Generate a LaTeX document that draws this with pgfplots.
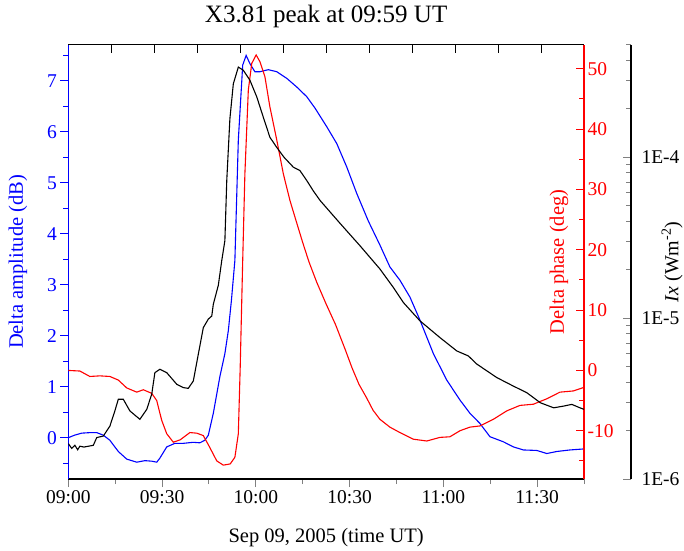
\documentclass[border=0pt]{standalone}
\usepackage{fontspec}
\setmainfont{Liberation Serif}
\usepackage{pgfplots}
\pgfplotsset{compat=1.18}

% time axis: minutes after 09:00
\newcommand{\labfont}{\fontsize{20.5}{24}\selectfont}
\pgfplotsset{
  common/.style={
    width=515.7pt, height=434.3pt, scale only axis,
    at={(0pt,0pt)}, anchor=south west,
    xmin=0, xmax=165,
    /pgf/number format/assume math mode=true,
    tick label style={font=\fontsize{19.5}{22}\selectfont},
    major tick length=8pt, minor tick length=5pt,
    every tick/.append style={line width=1pt},
    axis line style={line width=1.1pt},
  },
}

\begin{document}
\begin{tikzpicture}
\useasboundingbox (-68.3pt,-71pt) rectangle (615.7pt,479pt);

% amplitude (left, blue) + time axis
\begin{axis}[common,
  axis x line*=bottom, axis y line*=left,
  tick align=outside,
  ymin=-0.81, ymax=7.71,
  ytick={0,1,...,7}, minor ytick={-0.5,0.5,...,7.5},
  xtick={0,30,...,150},
  xticklabels={09:00,09:30,10:00,10:30,11:00,11:30},
  minor xtick={15,45,...,165},
  y axis line style={blue}, ytick style={blue},
  yticklabel style={blue},
  xlabel={Sep 09, 2005 (time UT)},
  every axis x label/.style={at={(axis description cs:0.5,-0.134)}, anchor=center, font=\labfont},
  ylabel={Delta amplitude (dB)},
  every axis y label/.style={at={(axis description cs:-0.0975,0.5)}, rotate=90, anchor=center, blue, font=\labfont},
  title={X3.81 peak at 09:59 UT},
  every axis title/.style={at={(axis description cs:0.5,1.066)}, anchor=center, font=\fontsize{25}{29}\selectfont},
]
\addplot[blue, line width=1.1pt] coordinates {
(0,0.0)(2,0.05)(4.3,0.09)(7,0.1)(9.1,0.1)(11.2,0.05)(13.3,-0.05)(16,-0.27)(18.7,-0.42)
(21.9,-0.48)(24.5,-0.45)(26.7,-0.46)(28.3,-0.48)(29.3,-0.4)(31.5,-0.18)(34.1,-0.11)
(36.8,-0.11)(40,-0.09)(42.1,-0.1)(43.7,-0.05)(44.8,0.05)(46.4,0.48)(48.5,1.2)(50.1,1.65)
(51.2,2.1)(52.2,2.7)(53.3,3.48)(54.4,5.84)(55.8,7.31)(56.9,7.5)(58.1,7.34)(59.7,7.18)
(61.3,7.18)(64,7.22)(66.7,7.18)(69.9,7.05)(73.1,6.88)(76.3,6.69)(79,6.46)(82.7,6.1)
(85.9,5.77)(89.1,5.31)(92.3,4.79)(96,4.25)(99.7,3.78)(102.9,3.35)(106.1,3.09)(109.3,2.76)
(112.5,2.31)(116.8,1.65)(121.1,1.13)(125.3,0.74)(128.5,0.48)(131.7,0.28)(134.9,0.02)
(139.2,-0.08)(142.4,-0.18)(145.6,-0.24)(149.9,-0.25)(153.1,-0.31)(156.3,-0.27)
(160.5,-0.24)(165,-0.22)
};
\end{axis}

% phase (right, red) + top line
\begin{axis}[common,
  axis y line*=right, axis x line*=top,
  tick align=inside,
  ymin=-18, ymax=54,
  ytick={-10,0,...,50}, minor ytick={-15,-5,...,45},
  xtick=\empty,
  y axis line style={red}, ytick style={red},
  yticklabel style={red},
  ylabel={Delta phase (deg)},
  every axis y label/.style={at={(axis description cs:0.9515,0.5)}, rotate=90, anchor=center, red, font=\labfont},
]
\addplot[red, line width=1.1pt] coordinates {
(0,0.0)(3.7,-0.1)(6.9,-1.0)(10.1,-0.9)(13.3,-1.0)(16,-1.6)(18.7,-2.9)(21.9,-3.6)(24,-3.2)
(26.7,-3.8)(28.3,-5.0)(29.9,-8.3)(31.5,-10.5)(33.6,-11.9)(35.8,-11.5)(38.9,-10.3)
(41.1,-10.4)(43.2,-10.8)(45.3,-12.8)(47.5,-15.0)(49.6,-15.7)(51.8,-15.5)(53.3,-14.4)
(54.4,-10.5)(55,0.5)(55.5,11.6)(55.8,18.2)(56.5,32.6)(57.6,46.5)(58.7,50.9)(60.1,52.3)
(61.3,51.2)(62.9,48.7)(64.5,43.7)(66.7,38.2)(68.8,32.6)(70.9,28.2)(73,24.6)(75,21.2)
(77,18.0)(79.5,14.6)(82.5,11.0)(85.5,7.6)(88.5,3.6)(90.8,0.4)(93,-2.3)(95.5,-4.6)(97.5,-6.6)
(99.7,-8.1)(102.9,-9.4)(106.1,-10.3)(110.4,-11.4)(114.7,-11.7)(118.9,-11.1)(122.1,-11.0)
(125.3,-10.0)(128.5,-9.4)(131.7,-9.2)(136,-8.1)(140.3,-6.7)(144.5,-5.8)(148.8,-5.6)
(153.1,-4.7)(157.3,-3.6)(161.6,-3.4)(165,-2.8)
};
\end{axis}

% top ticks: twelve equal divisions, 8pt strip hanging below the top edge
\begin{axis}[common,
  height=8pt, at={(0pt,434.3pt)}, anchor=north west,
  xmin=0, xmax=12, ymin=0, ymax=1,
  hide axis, clip=false,
]
\addplot[ycomb, black, line width=1pt, no marks] coordinates {
(1,1)(2,1)(3,1)(4,1)(5,1)(6,1)(7,1)(8,1)(9,1)(10,1)(11,1)
};
\end{axis}

% X-ray flux data (log)
\begin{axis}[common, hide axis, ymode=log, ymin=1e-6, ymax=5e-4]
\addplot[black, line width=1.1pt] coordinates {
(0,1.66e-6)(1.1,1.55e-6)(2.1,1.62e-6)(3.0,1.52e-6)(3.7,1.6e-6)(5,1.58e-6)(8,1.62e-6)
(9.1,1.81e-6)(11.2,1.85e-6)(13.3,2.13e-6)(14.9,2.65e-6)(16,3.13e-6)(17.6,3.13e-6)
(19.7,2.65e-6)(22.9,2.35e-6)(25.1,2.71e-6)(26.7,3.37e-6)(27.7,4.58e-6)(29.3,4.81e-6)
(31.5,4.58e-6)(34.7,3.88e-6)(36.8,3.70e-6)(38.4,3.66e-6)(40,4.07e-6)(41.6,5.97e-6)
(43.2,8.73e-6)(44.8,9.86e-6)(45.9,1.03e-5)(46.4,1.22e-5)(48,1.6e-5)(49.1,2.28e-5)
(50.1,3.03e-5)(50.7,7.16e-5)(51.7,1.73e-4)(52.8,2.86e-4)(54.4,3.63e-4)(56,3.47e-4)
(58.1,3.01e-4)(60.3,2.37e-4)(62.4,1.77e-4)(64.5,1.33e-4)(66.7,1.15e-4)(69,1.0e-4)
(72,8.67e-5)(74.1,8.26e-5)(76.3,7.16e-5)(78.4,6.17e-5)(80.6,5.37e-5)(86.9,3.89e-5)
(93.3,2.82e-5)(99.7,2.02e-5)(104,1.55e-5)(107.2,1.25e-5)(112.5,9.62e-6)(118.9,7.57e-6)
(124.3,6.25e-6)(128,5.82e-6)(130.7,5.18e-6)(137.1,4.27e-6)(142.4,3.78e-6)(146.7,3.44e-6)
(151,2.98e-6)(155.3,2.77e-6)(158.5,2.84e-6)(161.1,2.91e-6)(163.7,2.77e-6)(165,2.71e-6)
};
\end{axis}

% offset log axis for Ix
\begin{axis}[common, at={(47pt,0pt)},
  hide x axis, axis y line*=right,
  tick align=inside,
  ymode=log, ymin=1e-6, ymax=5e-4,
  ytick={1e-6,1e-5,1e-4}, yticklabels={1E-6,1E-5,1E-4},
  yticklabel style={xshift=7pt},
  minor ytick={2e-6,3e-6,4e-6,5e-6,6e-6,7e-6,8e-6,9e-6,
    2e-5,3e-5,4e-5,5e-5,6e-5,7e-5,8e-5,9e-5,2e-4,3e-4,4e-4,5e-4},
  ylabel={\textit{Ix} (Wm\textsuperscript{-2})},
  every axis y label/.style={at={(axis description cs:1.0795,0.5)}, rotate=90, anchor=center, font=\fontsize{20}{24}\selectfont},
]
\end{axis}
\end{tikzpicture}
\end{document}
